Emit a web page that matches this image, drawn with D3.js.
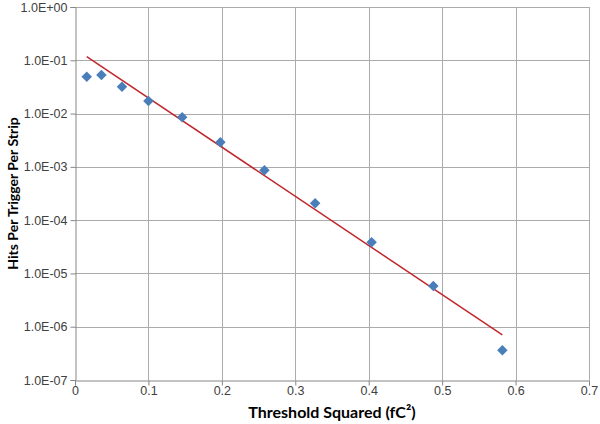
<!DOCTYPE html>
<html>
<head>
<meta charset="utf-8">
<script src="https://cdn.jsdelivr.net/npm/d3@7"></script>
<style>
  body { margin: 0; background: #fff; }
  svg { display: block; }
</style>
</head>
<body>
<svg></svg>
<script>
// measured points (threshold squared vs hits per trigger per strip)
var thresholdSq = [0.016, 0.036, 0.064, 0.100, 0.146, 0.198, 0.258, 0.327, 0.404, 0.488, 0.582];
var hitRate = [4.9e-2, 5.3e-2, 3.2e-2, 1.72e-2, 8.5e-3, 2.9e-3, 8.6e-4, 2.07e-4, 3.85e-5, 5.8e-6, 3.6e-7];

// exponential trend line end points
var trendX = [0.016, 0.582];
var trendY = [0.117, 7.0e-7];

var xTicks = [0, 0.1, 0.2, 0.3, 0.4, 0.5, 0.6, 0.7];
var yTicks = [1e0, 1e-1, 1e-2, 1e-3, 1e-4, 1e-5, 1e-6, 1e-7];

var screen = { width: 600, height: 424 };
var margins = { top: 7, left: 75, right: 11, bottom: 44 };
var width = screen.width - margins.left - margins.right;
var height = screen.height - margins.top - margins.bottom;

var svg = d3.select("svg")
            .attr("width", screen.width)
            .attr("height", screen.height)
            .style("font-family", "Lato, 'Open Sans', sans-serif");

var xScale = d3.scaleLinear().domain([0, 0.7]).range([0, width]);
var yScale = d3.scaleLog().domain([1e-7, 1]).range([height, 0]);

var plot = svg.append("g")
              .attr("transform", "translate(" + margins.left + "," + margins.top + ")");

// grid
plot.selectAll(".vgrid")
    .data(xTicks.slice(1))
    .enter().append("line")
    .attr("x1", function(d){ return Math.round(xScale(d)) + 0.5; })
    .attr("x2", function(d){ return Math.round(xScale(d)) + 0.5; })
    .attr("y1", 0).attr("y2", height)
    .attr("stroke", "#ababab");
plot.selectAll(".hgrid")
    .data(yTicks.slice(0, -1))
    .enter().append("line")
    .attr("y1", function(d){ return Math.round(yScale(d)) + 0.5; })
    .attr("y2", function(d){ return Math.round(yScale(d)) + 0.5; })
    .attr("x1", 0).attr("x2", width)
    .attr("stroke", "#ababab");

// axes
var xAxis = d3.axisBottom(xScale).tickValues(xTicks).tickSize(5).tickFormat(d3.format("~g"));
var yAxis = d3.axisLeft(yScale).tickValues(yTicks).tickSize(5)
              .tickFormat(function(d){
                var e = Math.round(Math.log10(d));
                return "1.0E" + (e < 0 ? "-" : "+") + String(Math.abs(e)).padStart(2, "0");
              });

var gx = plot.append("g")
    .attr("transform", "translate(0," + (Math.round(height) + 0.5) + ")")
    .call(xAxis);
var gy = plot.append("g")
    .attr("transform", "translate(0.5,0)")
    .call(yAxis);

[gx, gy].forEach(function(g){
  g.select(".domain").attr("stroke", "#868686");
  g.selectAll(".tick line").attr("stroke", "#868686");
  g.selectAll(".tick text").attr("fill", "#404040").style("font-size", "12.5px");
});
gx.selectAll(".tick text").attr("y", 6);
gy.selectAll(".tick text").attr("x", -8);

// trend line
var line = d3.line()
  .x(function(d){ return xScale(d[0]); })
  .y(function(d){ return yScale(d[1]); });
plot.append("path")
    .datum(d3.zip(trendX, trendY))
    .attr("d", line)
    .attr("fill", "none")
    .attr("stroke", "#c0272d")
    .attr("stroke-width", 1.5);

// markers
var diamond = d3.symbol().type(d3.symbolDiamond2).size(70);
plot.selectAll(".pt")
    .data(d3.zip(thresholdSq, hitRate))
    .enter().append("path")
    .attr("d", diamond)
    .attr("transform", function(d){ return "translate(" + xScale(d[0]) + "," + yScale(d[1]) + ")"; })
    .attr("fill", "#4a7ebb");

// titles
svg.append("text")
   .attr("x", margins.left + width / 2)
   .attr("y", 418)
   .attr("text-anchor", "middle")
   .style("font-size", "16px")
   .style("font-weight", "bold")
   .attr("fill", "#000")
   .text("Threshold Squared (fC²)");

svg.append("text")
   .attr("transform", "translate(18," + (margins.top + height / 2) + ") rotate(-90)")
   .attr("text-anchor", "middle")
   .style("font-size", "14px")
   .style("font-weight", "bold")
   .attr("fill", "#000")
   .text("Hits Per Trigger Per Strip");
</script>
</body>
</html>
